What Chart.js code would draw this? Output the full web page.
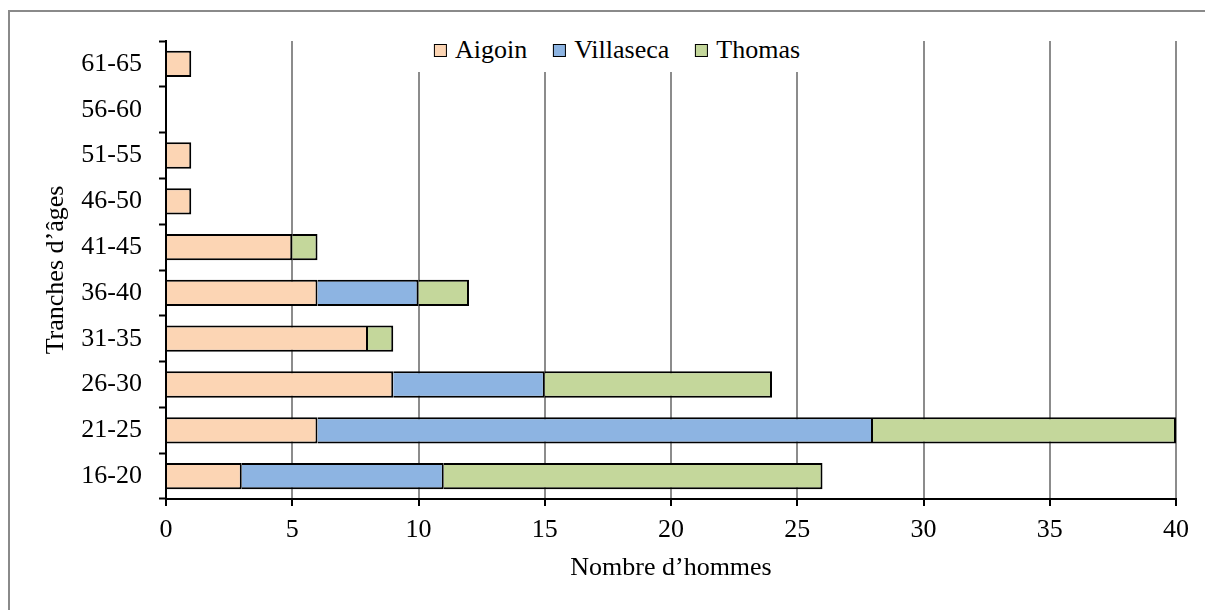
<!DOCTYPE html>
<html>
<head>
<meta charset="utf-8">
<script src="https://cdn.jsdelivr.net/npm/chart.js@4/dist/chart.umd.min.js"></script>
<style>
  html, body { margin: 0; padding: 0; background: #fff; }
  #wrap { position: relative; width: 1205px; height: 610px; overflow: hidden; }
  #frame { position: absolute; left: 8px; top: 10px; right: -10px; bottom: -10px;
           border-left: 2px solid #8a8a8a; border-top: 2px solid #8a8a8a; }
  #chart { position: absolute; left: 0; top: 0; }
  #legend { position: absolute; left: 617px; top: 35px; transform: translateX(-50%);
            background: #fff; padding: 0 17px 7px 17px; display: flex; white-space: nowrap;
            font-family: 'Liberation Serif', 'Times New Roman', serif; font-size: 26px;
            line-height: 30px; color: #000; }
  #legend .item { display: flex; align-items: center; margin-right: 26px; }
  #legend .item:last-child { margin-right: 0; }
  #legend .box { width: 11px; height: 11px; border: 1.5px solid #000; margin-right: 8px; margin-top: 1px; }
</style>
</head>
<body>
<div id="wrap">
  <div id="frame"></div>
  <canvas id="chart" width="1205" height="610"></canvas>
  <div id="legend"></div>
</div>
<script>
// Tranches d'âges, de bas en haut
const ageGroups = ['16-20', '21-25', '26-30', '31-35', '36-40', '41-45', '46-50', '51-55', '56-60', '61-65'];
const aigoin    = [3, 6, 9, 8, 6, 5, 1, 1, null, 1];
const villaseca = [8, 22, 6, null, 4, null, null, null, null, null];
const thomas    = [15, 12, 9, 1, 2, 1, null, null, null, null];
const xTicks = { min: 0, max: 40, step: 5 };

const serif = "'Liberation Serif', 'Times New Roman', serif";

const ctx = document.getElementById('chart').getContext('2d');
const chart = new Chart(ctx, {
    type: 'bar',
    data: {
        labels: ageGroups,
        datasets: [
            { label: 'Aigoin', data: aigoin, backgroundColor: '#FCD5B4' },
            { label: 'Villaseca', data: villaseca, backgroundColor: '#8DB4E2' },
            { label: 'Thomas', data: thomas, backgroundColor: '#C4D79B' }
        ].map(ds => Object.assign(ds, {
            borderColor: '#000000',
            borderWidth: 2,
            barPercentage: 1,
            categoryPercentage: 0.575
        }))
    },
    options: {
        indexAxis: 'y',
        responsive: false,
        animation: false,
        devicePixelRatio: 1,
        layout: { padding: { top: 41, right: 29, left: 0, bottom: 0 } },
        plugins: {
            tooltip: { enabled: false },
            legend: { display: false }
        },
        scales: {
            x: {
                stacked: true,
                min: xTicks.min,
                max: xTicks.max,
                ticks: {
                    stepSize: xTicks.step,
                    color: '#000',
                    padding: 9,
                    font: { family: serif, size: 26 }
                },
                grid: {
                    color: '#8c8c8c',
                    lineWidth: 2,
                    tickColor: '#000',
                    tickWidth: 2,
                    tickLength: 7
                },
                border: { color: '#000', width: 2 },
                title: {
                    display: true,
                    text: 'Nombre d’hommes',
                    color: '#000',
                    font: { family: serif, size: 26 },
                    padding: { top: 0, bottom: 26 }
                },
                afterFit(scale) { scale.height = 111; }
            },
            y: {
                stacked: true,
                reverse: true,
                ticks: {
                    color: '#000',
                    padding: 17,
                    font: { family: serif, size: 26 }
                },
                grid: {
                    drawOnChartArea: false,
                    drawTicks: true,
                    tickColor: '#000',
                    tickWidth: 2,
                    tickLength: 7
                },
                border: { color: '#000', width: 2 },
                title: {
                    display: true,
                    text: 'Tranches d’âges',
                    color: '#000',
                    font: { family: serif, size: 26 },
                    padding: { top: 41, bottom: 0 }
                },
                afterFit(scale) { scale.width = 166; }
            }
        }
    }
});

// légende HTML construite à partir des séries
const legendEl = document.getElementById('legend');
chart.data.datasets.forEach(ds => {
    const item = document.createElement('div');
    item.className = 'item';
    const box = document.createElement('span');
    box.className = 'box';
    box.style.background = ds.backgroundColor;
    const txt = document.createElement('span');
    txt.textContent = ds.label;
    item.appendChild(box);
    item.appendChild(txt);
    legendEl.appendChild(item);
});
</script>
</body>
</html>
